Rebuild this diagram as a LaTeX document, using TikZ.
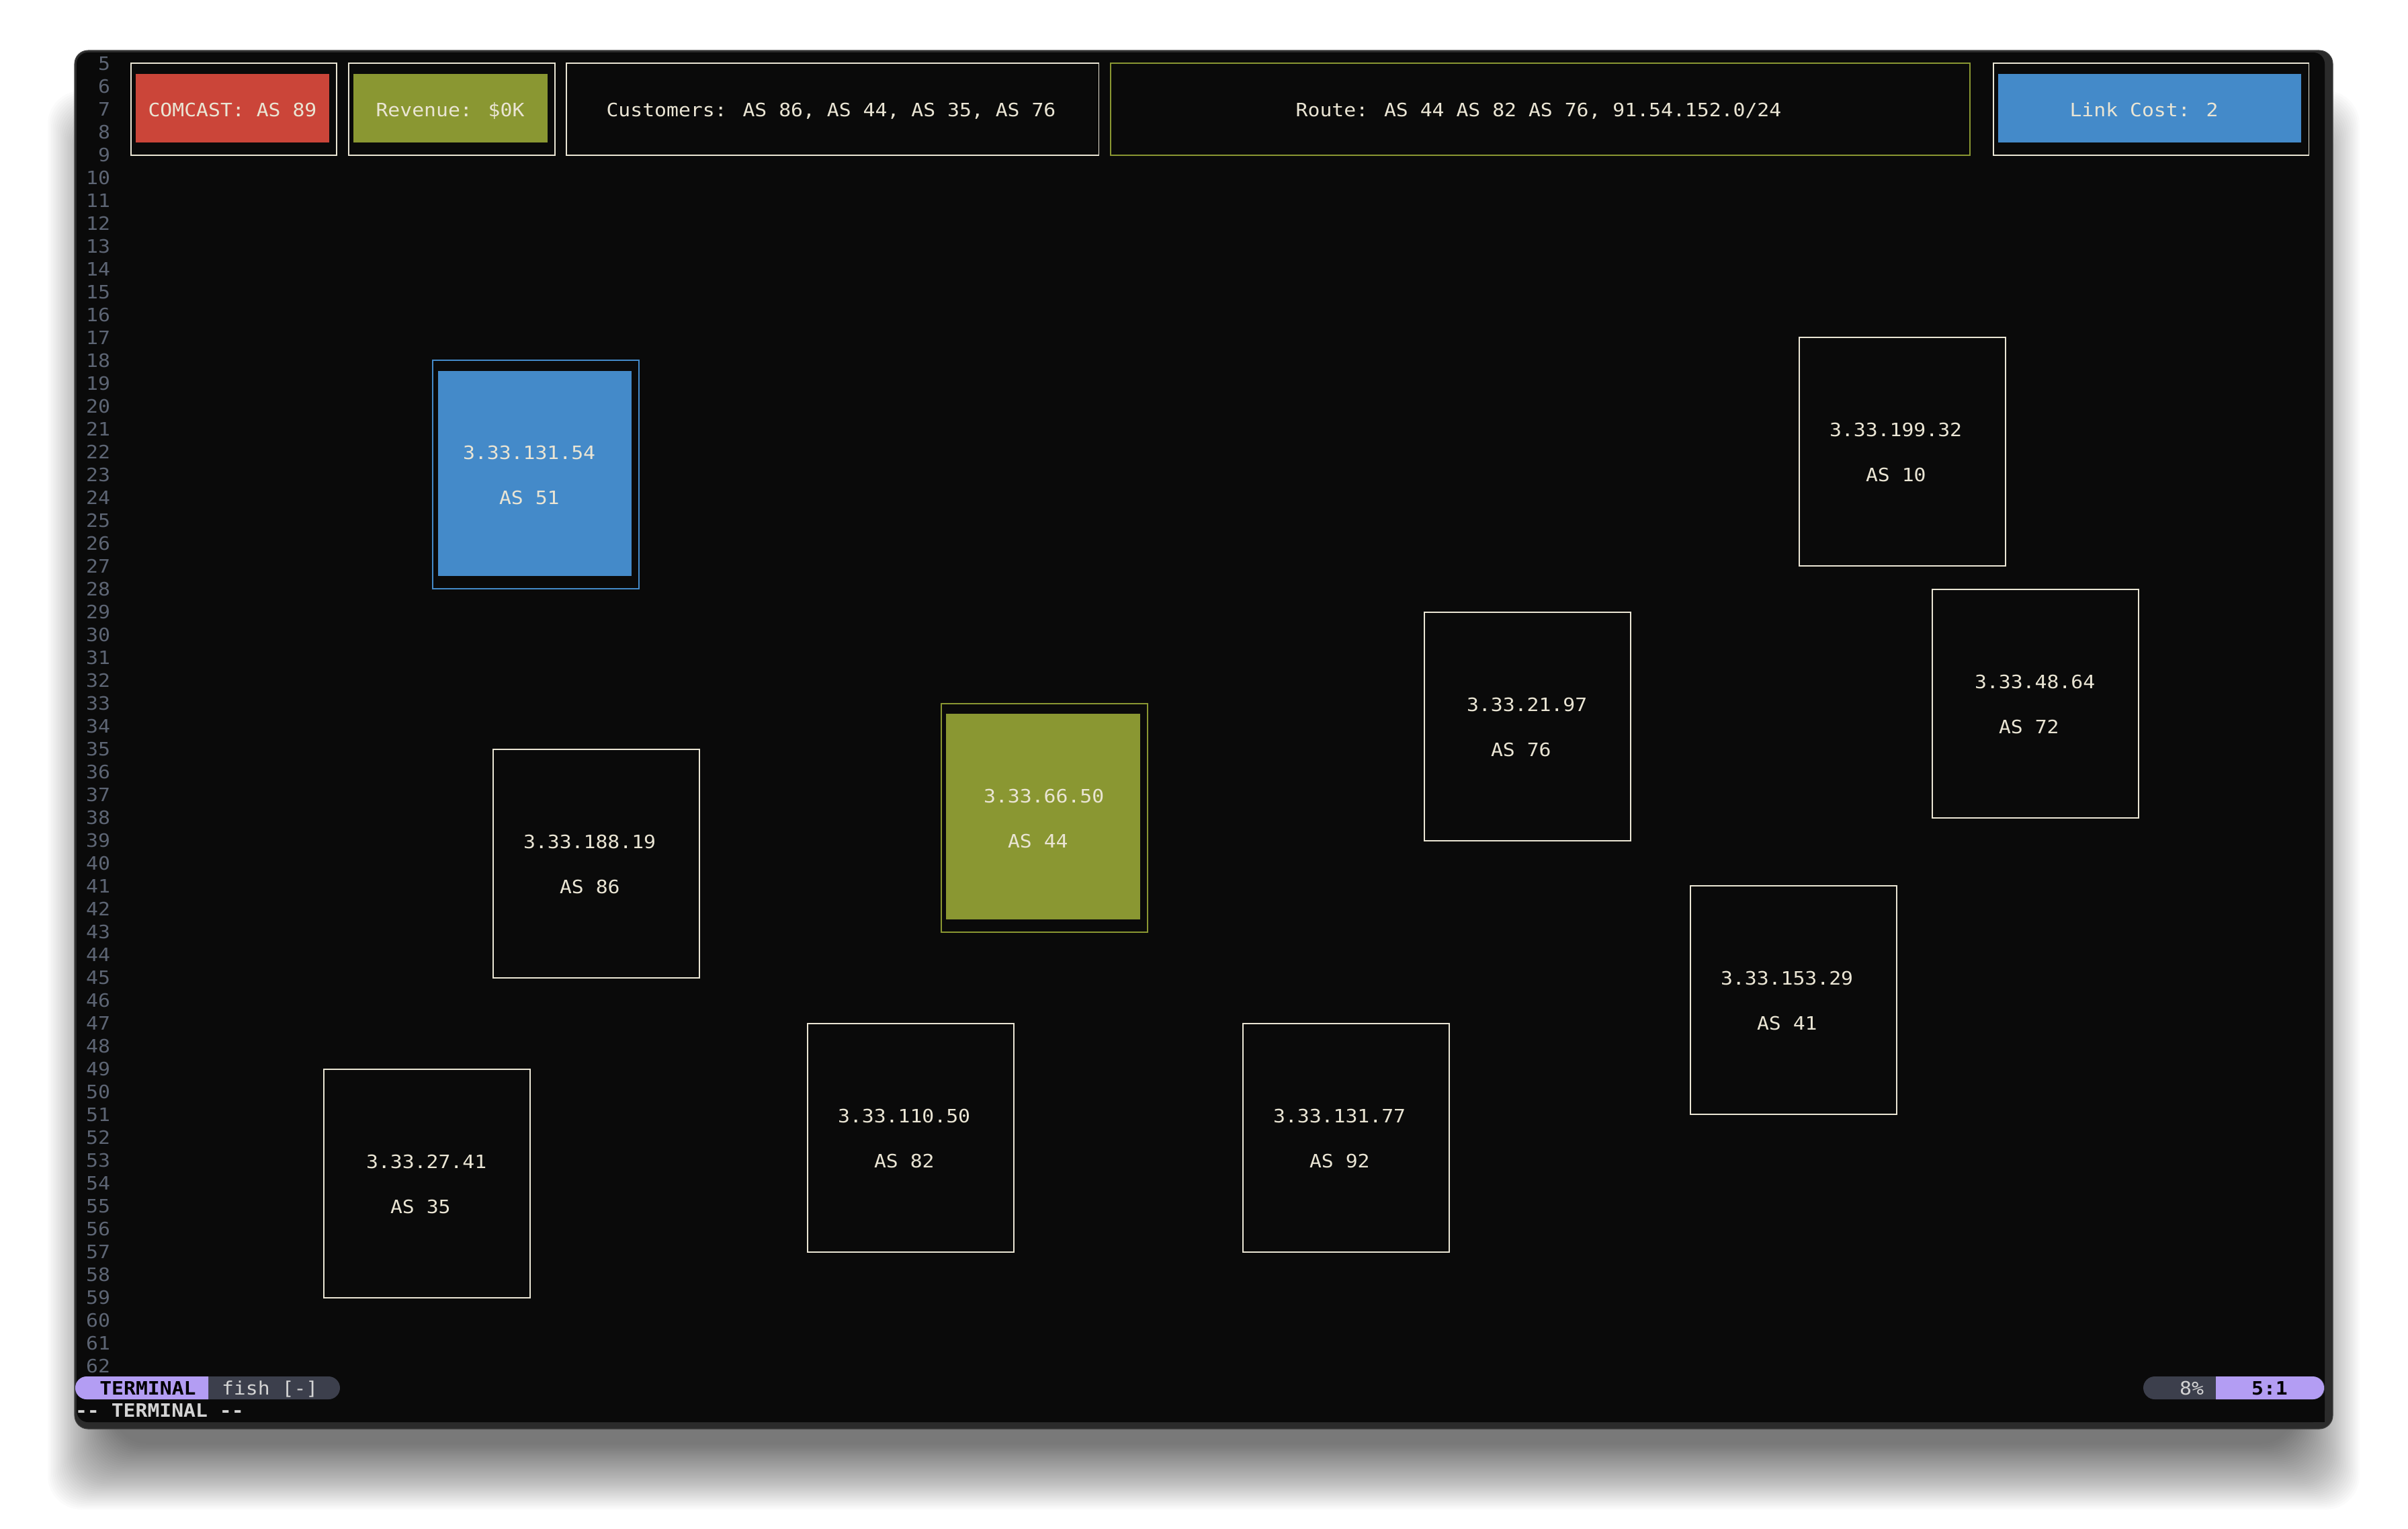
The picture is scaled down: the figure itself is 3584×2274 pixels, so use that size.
\documentclass[tikz,border=0pt]{standalone}
\usepackage{fontspec}
\newfontfamily\mono[FakeStretch=1.085]{DejaVu Sans Mono}
\usetikzlibrary{calc}

\definecolor{termbg}{HTML}{0A0A0A}
\definecolor{frame}{HTML}{2B2B2B}
\definecolor{cream}{HTML}{EAE5D4}
\definecolor{gutter}{HTML}{5D6574}
\definecolor{asred}{HTML}{CB4539}
\definecolor{asolive}{HTML}{8A9732}
\definecolor{asblue}{HTML}{448AC9}
\definecolor{modepurple}{HTML}{B39DF3}
\definecolor{pillgray}{HTML}{3C3F4C}
\definecolor{shelltext}{HTML}{D4D4D4}

% one router box: name, left, top, x offset of the address, address, AS label
\newcommand\asnode[6]{%
  \node[cell] (#1) at (#2,#3) {};
  \node[txt, anchor=base west] (#1ip) at ($(#1.north west)+(#4,147)$) {#5};
  \node[txt, anchor=base west] (#1as) at ($(#1.north west)+(99,214)$) {#6};
}

\begin{document}
\begin{tikzpicture}[x=0.01cm, y=-0.01cm,
  txt/.style={font=\mono\fontsize{7.8}{9}\selectfont, text=cream, inner sep=0pt, outer sep=0pt},
  boldtxt/.style={txt, font=\mono\bfseries\fontsize{7.8}{9}\selectfont},
  cell/.style={draw=cream, line width=0.45pt, minimum width=3.07cm, minimum height=3.40cm,
               anchor=north west, inner sep=0pt, outer sep=0pt},
  bar/.style={draw=cream, line width=0.45pt, minimum height=1.37cm,
              anchor=north west, inner sep=0pt, outer sep=0pt},
]
\useasboundingbox (0,0) rectangle (3584,2274);
\fill[white] (0,0) rectangle (3584,2274);

% soft drop shadow, mostly below the window
\foreach \i in {1,...,40}{
  \fill[black, opacity=0.016, rounded corners=0.5cm]
    ({171-2.5*\i},{235-2.5*\i}) rectangle ({3412+2.5*\i},{2146+2.5*\i});
}

% window frame and terminal area
\fill[frame, rounded corners=0.2cm] (111,75) rectangle (3472,2126);
\draw[black!75, line width=0.3pt, rounded corners=0.2cm] (111,75) rectangle (3472,2126);
\fill[termbg, rounded corners=0.17cm] (114,78) rectangle (3460,2116);
\fill[termbg] (3400,2060) rectangle (3460,2116);

% line numbers in the gutter
\foreach \n in {5,...,62}{
  \node[txt, text=gutter, anchor=base east] (ln\n) at (164,{104+(\n-5)*34}) {\n};
}

% header bar
\node[bar, minimum width=3.06cm] (comcast) at (195,94) {};
\fill[asred] ($(comcast.north west)+(7,16)$) rectangle ($(comcast.south east)+(-11,-19)$);
\node[txt, anchor=base] (comcastlbl) at (346,173) {COMCAST: AS 89};

\node[bar, minimum width=3.07cm] (revenue) at (519,94) {};
\fill[asolive] ($(revenue.north west)+(7,16)$) rectangle ($(revenue.south east)+(-11,-19)$);
\node[txt, anchor=base] (revenuelbl) at (670,173) {Revenue: \$0K};

\node[bar, minimum width=7.92cm] (customers) at (843,94) {};
\node[txt, anchor=base] (customerslbl) at (1237,173) {Customers: AS 86, AS 44, AS 35, AS 76};

\node[bar, draw=asolive, line width=0.55pt, minimum width=12.78cm] (route) at (1653,94) {};
\node[txt, anchor=base] (routelbl) at (2290,173) {Route: AS 44 AS 82 AS 76, 91.54.152.0/24};

\node[bar, minimum width=4.69cm] (linkcost) at (2967,94) {};
\fill[asblue] ($(linkcost.north west)+(7,16)$) rectangle ($(linkcost.south east)+(-11,-19)$);
\node[txt, anchor=base] (linkcostlbl) at (3191,173) {Link Cost: 2};

% highlighted routers
\node[cell, draw=asblue] (as51) at (644,536) {};
\fill[asblue] ($(as51.north west)+(8,16)$) rectangle ($(as51.south east)+(-11,-19)$);
\node[txt, anchor=base west] (as51ip) at ($(as51.north west)+(45,147)$) {3.33.131.54};
\node[txt, anchor=base west] (as51as) at ($(as51.north west)+(99,214)$) {AS 51};

\node[cell, draw=asolive] (as44) at (1401,1047) {};
\fill[asolive] ($(as44.north west)+(7,15)$) rectangle ($(as44.south east)+(-11,-19)$);
\node[txt, anchor=base west] (as44ip) at ($(as44.north west)+(63,147)$) {3.33.66.50};
\node[txt, anchor=base west] (as44as) at ($(as44.north west)+(99,214)$) {AS 44};

% other routers
\asnode{as10}{2678}{502}{45}{3.33.199.32}{AS 10}
\asnode{as72}{2876}{877}{63}{3.33.48.64}{AS 72}
\asnode{as76}{2120}{911}{63}{3.33.21.97}{AS 76}
\asnode{as86}{734}{1115}{45}{3.33.188.19}{AS 86}
\asnode{as41}{2516}{1318}{45}{3.33.153.29}{AS 41}
\asnode{as82}{1202}{1523}{45}{3.33.110.50}{AS 82}
\asnode{as92}{1850}{1523}{45}{3.33.131.77}{AS 92}
\asnode{as35}{482}{1591}{63}{3.33.27.41}{AS 35}

% status line, left side
\fill[pillgray, rounded corners=0.17cm] (112,2048) rectangle (506,2082);
\fill[modepurple] (310,2048) -- (129,2048) arc[start angle=90, end angle=270, radius=0.17cm] -- (310,2082) -- cycle;
\node[boldtxt, text=black, anchor=base] (mode) at (220,2075) {TERMINAL};
\node[txt, text=shelltext, anchor=base west] (shell) at (330,2075) {fish [-]};

% status line, right side
\fill[pillgray, rounded corners=0.17cm] (3190,2048) rectangle (3460,2082);
\fill[modepurple] (3298,2048) -- (3442,2048) arc[start angle=90, end angle=-90, radius=0.17cm] -- (3298,2082) -- cycle;
\node[txt, text=shelltext, anchor=base] (pct) at (3262,2075) {8\%};
\node[boldtxt, text=black, anchor=base] (pos) at (3378,2075) {5:1};

% mode message
\node[boldtxt, text=shelltext, anchor=base west] (modemsg) at (112,2108) {-{}- TERMINAL -{}-};
\end{tikzpicture}
\end{document}
